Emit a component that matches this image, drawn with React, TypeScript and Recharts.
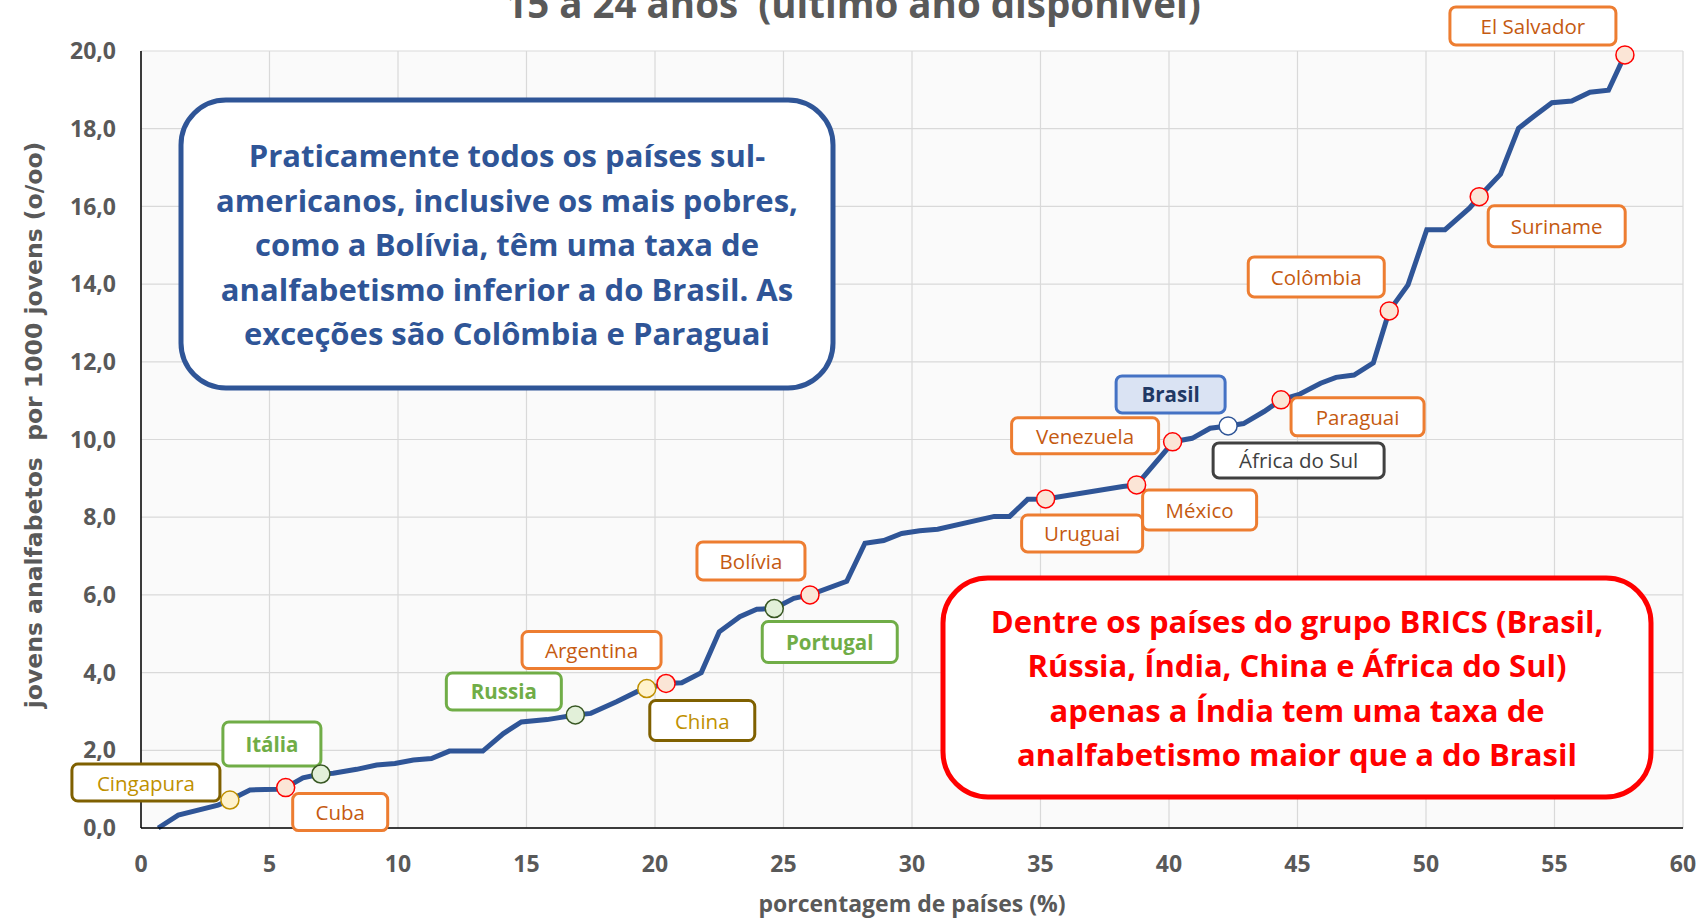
import { ComposedChart, Line, Scatter, XAxis, YAxis, CartesianGrid } from 'recharts';

// curva: porcentagem acumulada de países x taxa de analfabetismo (15-24 anos)
const pctPaises = [
  0.67, 1.45, 3.0, 3.46, 4.24, 5.28, 5.63, 6.3, 7.0, 7.48, 8.39, 9.17, 9.88, 10.6, 11.3, 12.0,
  13.3, 14.1, 14.8, 15.8, 16.9, 17.5, 18.5, 19.3, 19.68, 20.43, 21.04, 21.8, 22.5, 23.3, 23.96,
  24.64, 25.4, 26.03, 27.46, 28.17, 28.9, 29.6, 30.3, 31.0, 33.2, 33.8, 34.5, 35.2, 38.2, 38.74,
  39.9, 40.14, 40.9, 41.6, 42.3, 42.9, 43.7, 44.36, 45.1, 45.9, 46.5, 47.2, 47.95, 48.57, 49.3,
  50.03, 50.74, 51.7, 52.07, 52.9, 53.6, 54.2, 54.9, 55.67, 56.38, 57.1, 57.74,
];
const taxa = [
  0, 0.33, 0.59, 0.72, 0.98, 1.0, 1.04, 1.29, 1.39, 1.41, 1.51, 1.62, 1.66, 1.75, 1.79, 1.98,
  1.98, 2.43, 2.73, 2.79, 2.91, 2.95, 3.25, 3.51, 3.59, 3.72, 3.74, 4.0, 5.05, 5.44, 5.63,
  5.65, 5.91, 6.0, 6.35, 7.33, 7.4, 7.58, 7.65, 7.69, 8.02, 8.02, 8.46, 8.47, 8.79, 8.83,
  9.73, 9.94, 10.03, 10.29, 10.35, 10.41, 10.72, 11.02, 11.17, 11.45, 11.6, 11.66, 11.97, 13.31, 13.98,
  15.4, 15.4, 15.96, 16.25, 16.83, 18.01, 18.32, 18.67, 18.71, 18.94, 18.99, 19.9,
];

// países destacados
const paises = [
  'Cingapura', 'Cuba', 'Itália', 'Russia', 'China', 'Argentina', 'Portugal', 'Bolívia', 'Uruguai',
  'México', 'Venezuela', 'Brasil', 'África do Sul', 'Paraguai', 'Colômbia', 'Suriname', 'El Salvador',
];
const paisX = [3.46, 5.63, 7.0, 16.9, 19.68, 20.43, 24.64, 26.03, 35.2, 38.74, 40.14, 42.3, 42.3, 44.36, 48.57, 52.07, 57.74];
const paisY = [0.72, 1.04, 1.39, 2.91, 3.59, 3.72, 5.65, 6.0, 8.47, 8.83, 9.94, 10.35, 10.35, 11.02, 13.31, 16.25, 19.9];
const paisGrupo = [
  'asia', 'latam', 'europa', 'europa', 'asia', 'latam', 'europa', 'latam', 'latam',
  'latam', 'latam', 'brasil', 'africa', 'latam', 'latam', 'latam', 'latam',
];

const xTicks = [0, 5, 10, 15, 20, 25, 30, 35, 40, 45, 50, 55, 60];
const yTicks = [0, 2, 4, 6, 8, 10, 12, 14, 16, 18, 20];

const titulo = '15 a 24 anos  (último ano disponível)';
const tituloY = 'jovens analfabetos  por 1000 jovens (o/oo)';
const tituloX = 'porcentagem de países (%)';
const notaAzul = [
  'Praticamente todos os países sul-',
  'americanos, inclusive os mais pobres,',
  'como a Bolívia, têm uma taxa de',
  'analfabetismo inferior a do Brasil. As',
  'exceções são Colômbia e Paraguai',
];
const notaVermelha = [
  'Dentre os países do grupo BRICS (Brasil,',
  'Rússia, Índia, China e África do Sul)',
  'apenas a Índia tem uma taxa de',
  'analfabetismo maior que a do Brasil',
];

const W = 1702;
const H = 919;
const FONT = "'Open Sans', 'Noto Sans', sans-serif";
const CINZA = '#595959';

const curva = pctPaises.map((x, i) => ({ x, y: taxa[i] }));
const destaques = paises.map((nome, i) => ({ nome, x: paisX[i], y: paisY[i], grupo: paisGrupo[i] }));
const marcadores = destaques.filter((d) => d.nome !== 'Brasil');

const estiloMarcador: Record<string, { fill: string; stroke: string }> = {
  latam: { fill: '#FBE5D6', stroke: '#FF0000' },
  europa: { fill: '#E2F0D9', stroke: '#385723' },
  asia: { fill: '#FFF2CC', stroke: '#BF9000' },
  africa: { fill: '#FFFFFF', stroke: '#2F5597' },
  brasil: { fill: '#FFFFFF', stroke: '#2F5597' },
};

const estiloRotulo: Record<string, { fill: string; stroke: string; color: string; weight: number }> = {
  latam: { fill: '#FFFFFF', stroke: '#ED7D31', color: '#C55A11', weight: 400 },
  europa: { fill: '#FFFFFF', stroke: '#70AD47', color: '#70AD47', weight: 700 },
  asia: { fill: '#FFFFFF', stroke: '#7F6000', color: '#BF9000', weight: 400 },
  africa: { fill: '#FFFFFF', stroke: '#404040', color: '#404040', weight: 400 },
  brasil: { fill: '#DAE3F3', stroke: '#4472C4', color: '#203864', weight: 700 },
};

// caixa do rótulo relativa ao marcador: [dx, dy, largura, altura]
const caixa: Record<string, number[]> = {
  Cingapura: [-158, -36, 148, 37],
  Cuba: [7, 6, 95, 37],
  'Itália': [-98, -52, 98, 44],
  Russia: [-129, -42, 115, 37],
  China: [3, 12, 105, 40],
  Argentina: [-144, -52, 139, 37],
  Portugal: [-12, 13, 135, 41],
  'Bolívia': [-113, -53, 108, 38],
  Uruguai: [-24, 16, 121, 37],
  'México': [6, 5, 114, 40],
  Venezuela: [-161, -24, 147, 36],
  Brasil: [-112, -50, 109, 37],
  'África do Sul': [-15, 17, 171, 35],
  Paraguai: [10, -2, 133, 38],
  'Colômbia': [-141, -54, 136, 40],
  Suriname: [9, 9, 137, 41],
  'El Salvador': [-175, -48, 166, 38],
};

const Rotulo = (props: any) => {
  const { cx, cy, payload } = props;
  if (cx == null || !payload) return null;
  const [dx, dy, w, h] = caixa[payload.nome];
  const s = estiloRotulo[payload.grupo];
  return (
    <g>
      <rect x={cx + dx} y={cy + dy} width={w} height={h} rx={6} fill={s.fill} stroke={s.stroke} strokeWidth={3} />
      <text
        x={cx + dx + w / 2}
        y={cy + dy + h / 2}
        textAnchor="middle"
        dominantBaseline="central"
        fontFamily={FONT}
        fontSize={20.5}
        fontWeight={s.weight}
        fill={s.color}
      >
        {payload.nome}
      </text>
    </g>
  );
};

const Marcador = (props: any) => {
  const { cx, cy, payload } = props;
  if (cx == null || !payload) return null;
  const s = estiloMarcador[payload.grupo];
  return <circle cx={cx} cy={cy} r={9} fill={s.fill} stroke={s.stroke} strokeWidth={1.5} />;
};

const tickStyle = { fontSize: 23, fontWeight: 700, fill: CINZA, fontFamily: FONT };

export default function App() {
  return (
    <div style={{ position: 'absolute', left: 0, top: 0, width: W, height: H, background: '#fff' }}>
      <ComposedChart width={W} height={H} data={curva} margin={{ top: 51, right: 19, bottom: 0, left: 0 }}>
        <CartesianGrid stroke="#D9D9D9" strokeWidth={1.2} fill="#FAFAFA" />
        <XAxis
          dataKey="x"
          type="number"
          domain={[0, 60]}
          ticks={xTicks}
          interval={0}
          height={91}
          tickLine={false}
          tickMargin={22}
          axisLine={{ stroke: '#000', strokeWidth: 1.5 }}
          tick={tickStyle}
        />
        <YAxis
          type="number"
          domain={[0, 20]}
          ticks={yTicks}
          interval={0}
          width={141}
          tickLine={false}
          tickMargin={19}
          axisLine={{ stroke: '#000', strokeWidth: 1.5 }}
          tick={tickStyle}
          tickFormatter={(v: number) => v.toFixed(1).replace('.', ',')}
        />
        <Line
          dataKey="y"
          type="linear"
          stroke="#2F5597"
          strokeWidth={5}
          dot={false}
          activeDot={false}
          isAnimationActive={false}
        />
        <Scatter data={destaques} dataKey="y" shape={<Rotulo />} isAnimationActive={false} />
        <Scatter data={marcadores} dataKey="y" shape={<Marcador />} isAnimationActive={false} />
      </ComposedChart>

      <svg
        width={W}
        height={H}
        style={{ position: 'absolute', left: 0, top: 0, pointerEvents: 'none' }}
      >
        <text x={853} y={18} textAnchor="middle" fontFamily={FONT} fontSize={38.5} fontWeight={700} fill={CINZA} style={{ whiteSpace: 'pre' }}>
          {titulo}
        </text>
        <text
          transform="translate(34,425) rotate(-90)"
          textAnchor="middle"
          dominantBaseline="central"
          fontFamily="'DejaVu Sans', sans-serif"
          fontSize={23.5}
          fontWeight={700}
          fill={CINZA}
          style={{ whiteSpace: 'pre' }}
        >
          {tituloY}
        </text>
        <text x={912} y={912} textAnchor="middle" fontFamily={FONT} fontSize={23} fontWeight={700} fill={CINZA}>
          {tituloX}
        </text>

        <rect x={181} y={100} width={652} height={288} rx={45} fill="#fff" stroke="#2F5597" strokeWidth={5} />
        {notaAzul.map((linha, i) => (
          <text
            key={i}
            x={507}
            y={167 + i * 44.5}
            textAnchor="middle"
            fontFamily={FONT}
            fontSize={31}
            fontWeight={700}
            fill="#2F5597"
          >
            {linha}
          </text>
        ))}

        <rect x={943} y={578} width={708} height={219} rx={45} fill="#fff" stroke="#FF0000" strokeWidth={5} />
        {notaVermelha.map((linha, i) => (
          <text
            key={i}
            x={1297}
            y={633 + i * 44.3}
            textAnchor="middle"
            fontFamily={FONT}
            fontSize={31}
            fontWeight={700}
            fill="#FF0000"
          >
            {linha}
          </text>
        ))}
      </svg>
    </div>
  );
}
